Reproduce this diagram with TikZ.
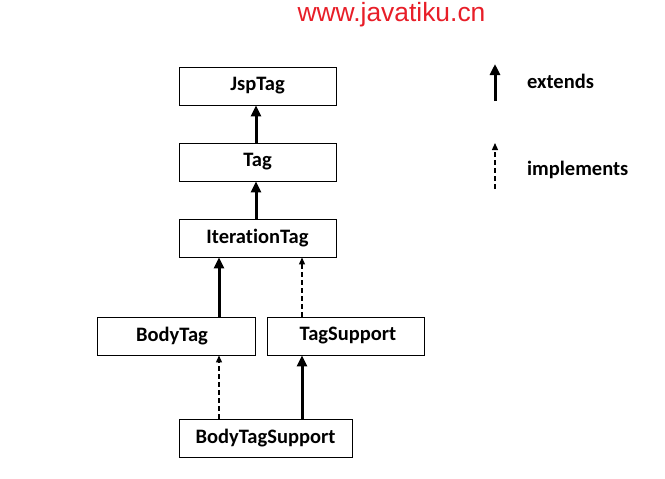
\documentclass[tikz,border=0pt]{standalone}
\usepackage{fontspec}
\setmainfont[Ligatures={NoCommon}]{Carlito}
\newfontfamily\wmfont{Liberation Sans}
\usetikzlibrary{arrows.meta}
\definecolor{wmred}{RGB}{232,30,40}
\begin{document}
\begin{tikzpicture}[x=1pt,y=-1pt,
  cls/.style={draw=black,line width=0.9pt,inner sep=0pt,minimum height=38pt,
    font=\fontsize{20.5}{24}\selectfont\bfseries,anchor=center},
  ext/.style={line width=3pt,-{Triangle[length=11pt,width=10pt]}},
  impl/.style={line width=1.2pt,dash pattern=on 5pt off 3pt,-{Triangle[length=7pt,width=6pt]}},
  lbl/.style={anchor=west,inner sep=0pt,font=\fontsize{20.5}{24}\selectfont\bfseries}]
\useasboundingbox[fill=white] (0,0) rectangle (665,479);
\node[font=\wmfont\fontsize{26.4}{30}\selectfont,text=wmred,inner sep=0pt] (wm) at (391.5,15) {www.javatiku.cn};
\node[cls,minimum width=157pt] (jsp) at (257.5,86) {JspTag};
\node[cls,minimum width=157pt] (tag) at (257.5,162) {Tag};
\node[cls,minimum width=157pt] (iter) at (257.5,238) {IterationTag};
\node[cls,minimum width=158pt] (body) at (176,336) {\hspace*{-8pt}BodyTag};
\node[cls,minimum width=157pt] (ts) at (345.5,336) {\hspace*{5pt}TagSupport};
\node[cls,minimum width=173pt] (bts) at (265.5,438) {BodyTagSupport};
\coordinate (a1) at ([xshift=-1.5pt]tag.north);
\draw[ext] (a1) -- (a1 |- jsp.south);
\coordinate (a2) at ([xshift=-1.5pt]iter.north);
\draw[ext] (a2) -- (a2 |- tag.south);
\coordinate (a3) at ([xshift=43pt]body.north);
\draw[ext] (a3) -- (a3 |- iter.south);
\coordinate (a4) at ([xshift=-43.5pt]ts.north);
\draw[impl] (a4) -- (a4 |- iter.south);
\coordinate (a5) at (a3 |- bts.north);
\draw[impl] (a5) -- (a5 |- body.south);
\coordinate (a6) at (a4 |- bts.north);
\draw[ext] (a6) -- (a6 |- ts.south);
\coordinate (le1) at (495,101);
\coordinate (le2) at (495,64);
\draw[ext] (le1) -- (le2);
\node[lbl] (lext) at (527,81) {extends};
\coordinate (li1) at (495,189);
\coordinate (li2) at (495,143);
\draw[impl] (li1) -- (li2);
\node[lbl] (limp) at (527,170) {implements};
\end{tikzpicture}
\end{document}
